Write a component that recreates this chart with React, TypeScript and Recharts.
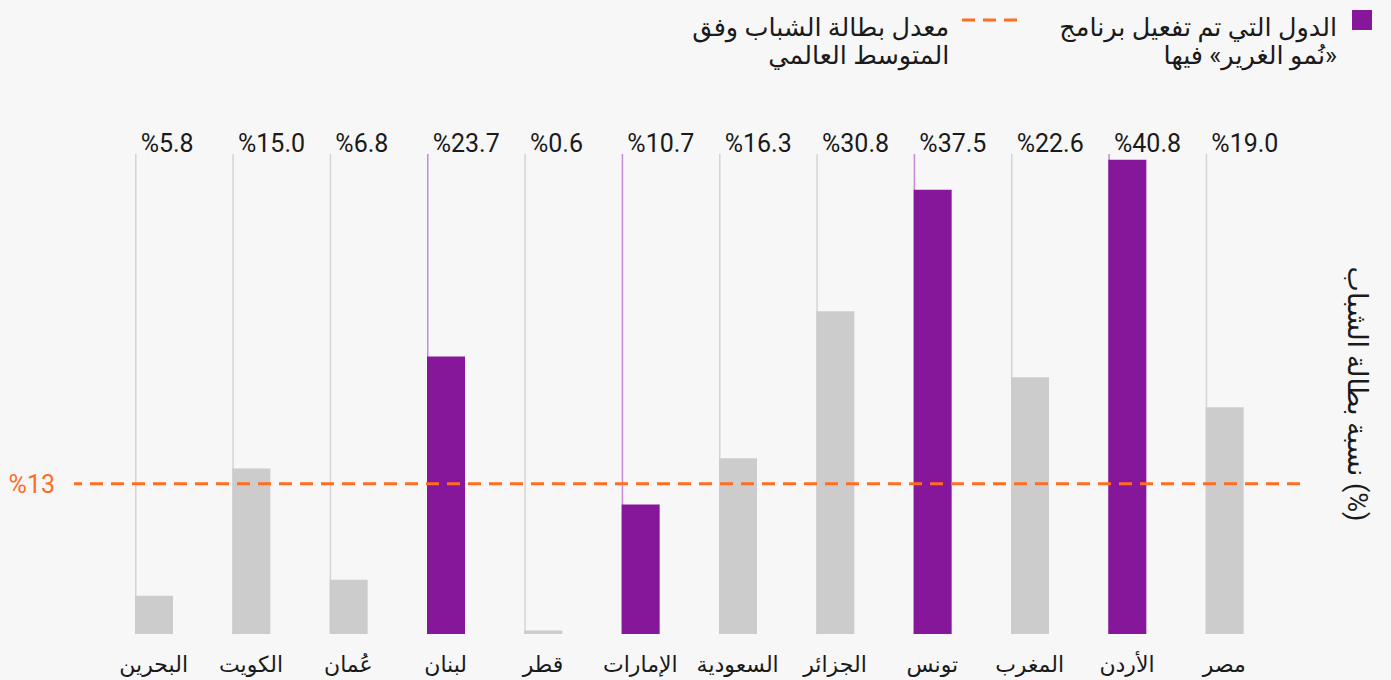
import { BarChart, Bar, XAxis, YAxis, Cell, ReferenceLine, Legend } from 'recharts';

const countries = ['البحرين', 'الكويت', 'عُمان', 'لبنان', 'قطر', 'الإمارات', 'السعودية', 'الجزائر', 'تونس', 'المغرب', 'الأردن', 'مصر'];
const barValues = [3.3, 14.3, 4.7, 24.0, 0.3, 11.2, 15.2, 27.9, 38.4, 22.2, 41.0, 19.6];
const valueLabels = ['%5.8', '%15.0', '%6.8', '%23.7', '%0.6', '%10.7', '%16.3', '%30.8', '%37.5', '%22.6', '%40.8', '%19.0'];
const inProgramme = [false, false, false, true, false, true, false, false, true, false, true, false];
const averageRate = 13;

const PURPLE = '#86179a';
const PURPLE_LINE = '#c58bd6';
const GREY = '#cccccc';
const GREY_LINE = '#d4d4d4';
const ORANGE = '#ff6d1f';
const INK = '#1a1a1a';
const FONT = "Roboto, 'DejaVu Sans', sans-serif";
const BAR_SIZE = 38;

const data = countries.map((name, i) => ({ name, value: barValues[i] }));

function Stem(props: any) {
  const { x, y, height, index } = props;
  return (
    <line
      x1={x + 0.75}
      x2={x + 0.75}
      y1={y}
      y2={y + height}
      stroke={inProgramme[index] ? PURPLE_LINE : GREY_LINE}
      strokeWidth={1.5}
    />
  );
}

function TopTick(props: any) {
  const { x, y, index } = props;
  return (
    <text x={x - BAR_SIZE / 2 + 6} y={y - 2} fill={INK} fontSize={25} fontFamily={FONT} textAnchor="start">
      {valueLabels[index]}
    </text>
  );
}

function LegendBox() {
  const text = { fontSize: 25.5, lineHeight: '28px', paddingTop: 5, color: INK, textAlign: 'right' as const };
  return (
    <div style={{ display: 'flex', direction: 'rtl', gap: 37, fontFamily: FONT }}>
      <div style={{ display: 'flex', alignItems: 'flex-start', gap: 15 }}>
        <div style={{ width: 20, height: 20, background: PURPLE, marginTop: 2 }} />
        <div style={text}>
          الدول التي تم تفعيل برنامج
          <br />
          «نُمو الغرير» فيها
        </div>
      </div>
      <div style={{ display: 'flex', alignItems: 'flex-start', gap: 13 }}>
        <svg width={60} height={24}>
          <line x1={0} x2={60} y1={12} y2={12} stroke={ORANGE} strokeWidth={3} strokeDasharray="13 8" />
        </svg>
        <div style={text}>
          معدل بطالة الشباب وفق
          <br />
          المتوسط العالمي
        </div>
      </div>
    </div>
  );
}

export default function App() {
  return (
    <div style={{ position: 'fixed', left: 0, top: 0, width: 1391, height: 680, background: '#f7f7f7', fontFamily: FONT }}>
      <BarChart width={1391} height={680} data={data} margin={{ top: 124, right: 0, bottom: 0, left: 74 }}>
        <XAxis
          dataKey="name"
          height={46}
          padding={{ left: 31, right: 27 }}
          axisLine={false}
          tickLine={false}
          tickSize={0}
          tickMargin={22}
          interval={0}
          tick={{ fill: INK, fontSize: 22, fontFamily: FONT }}
        />
        <XAxis
          xAxisId="top"
          dataKey="name"
          orientation="top"
          height={30}
          padding={{ left: 31, right: 27 }}
          axisLine={false}
          tickLine={false}
          tickSize={0}
          tickMargin={0}
          interval={0}
          tick={<TopTick />}
        />
        <YAxis
          orientation="right"
          width={91}
          domain={[0, 41.5]}
          allowDataOverflow
          axisLine={false}
          tickLine={false}
          tick={false}
          label={{
            value: 'نسبة بطالة الشباب (%)',
            angle: 90,
            position: 'center',
            dx: 12,
            fill: INK,
            fontSize: 27,
            fontFamily: FONT,
          }}
        />
        <Legend
          verticalAlign="middle"
          align="center"
          wrapperStyle={{ top: 8, left: 'auto', right: 19, width: 'auto' }}
          content={<LegendBox />}
        />
        <Bar dataKey="value" barSize={BAR_SIZE} background={<Stem />} isAnimationActive={false}>
          {data.map((d, i) => (
            <Cell key={d.name} fill={inProgramme[i] ? PURPLE : GREY} />
          ))}
        </Bar>
        <ReferenceLine
          y={averageRate}
          stroke={ORANGE}
          strokeWidth={3}
          strokeDasharray="13 8"
          label={{ value: `%${averageRate}`, position: 'left', offset: 19, fill: ORANGE, fontSize: 25, fontFamily: FONT }}
        />
      </BarChart>
    </div>
  );
}
